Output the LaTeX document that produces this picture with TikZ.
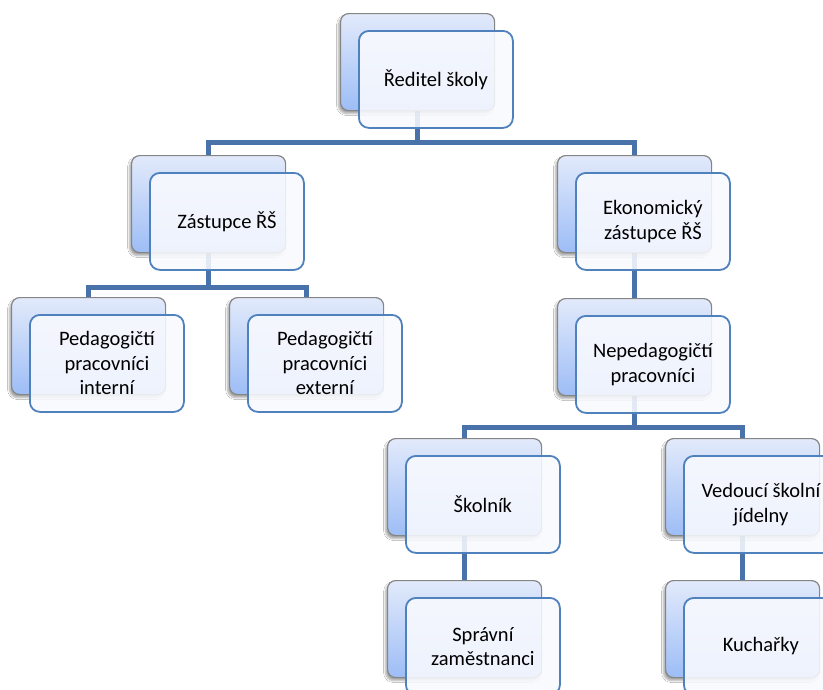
\documentclass[tikz,border=0pt]{standalone}
\usepackage{fontspec}
\setmainfont{Carlito}
\usetikzlibrary{shadows.blur}
\pgfdeclarelayer{background}
\pgfsetlayers{background,main}
\definecolor{linkblue}{HTML}{4A72AA}
\definecolor{frontborder}{HTML}{4F81BD}
\definecolor{frontfill}{HTML}{F9FAFE}
\definecolor{backtop}{HTML}{E2EAFB}
\definecolor{backbot}{HTML}{9DBDF6}
\definecolor{backborder}{HTML}{858585}
\tikzset{
  backbox/.style={draw=backborder, line width=1.2pt, rounded corners=8pt,
    top color=backtop, bottom color=backbot, minimum width=154pt, minimum height=97pt,
    inner sep=0pt, anchor=north west,
    blur shadow={shadow xshift=-2pt, shadow yshift=-3pt, shadow blur steps=6, shadow opacity=35}},
  frontbox/.style={draw=frontborder, line width=1.8pt, rounded corners=10pt,
    fill=frontfill, fill opacity=0.88, text opacity=1, minimum width=154pt, minimum height=97pt,
    inner sep=0pt, anchor=north west, align=center,
    font=\fontsize{20.5}{24.5}\selectfont},
  link/.style={draw=linkblue, line width=5pt}
}
\newcommand\orgbox[4]{%
  \node[backbox] (#1-b) at (#2,#3) {};
  \node[frontbox] (#1) at (#2+18,#3+17) {#4};}
\begin{document}
\begin{tikzpicture}[x=1pt,y=-1pt]
\useasboundingbox (0,0) rectangle (823,689);
\clip (0,0) rectangle (823,689);
\orgbox{dir}{340}{13}{Ředitel školy}
\orgbox{zast}{131}{155}{Zástupce ŘŠ}
\orgbox{ekon}{557}{155}{Ekonomický\\zástupce ŘŠ}
\orgbox{pint}{11}{297}{Pedagogičtí\\pracovníci\\interní}
\orgbox{pext}{229}{297}{Pedagogičtí\\pracovníci\\externí}
\orgbox{neped}{557}{298}{Nepedagogičtí\\pracovníci}
\orgbox{skol}{387}{438}{Školník}
\orgbox{ved}{665}{438}{Vedoucí školní\\jídelny}
\orgbox{spr}{387}{580}{Správní\\zaměstnanci}
\orgbox{kuch}{665}{580}{Kuchařky}
\begin{pgfonlayer}{background}
\fill[white] (0,0) rectangle (823,689);
\draw[link] (dir-b.south) -- ++(0,31) -| (zast-b.north);
\draw[link] (dir-b.south) -- ++(0,31) -| (ekon-b.north);
\draw[link] (zast-b.south) -- ++(0,34) -| (pint-b.north);
\draw[link] (zast-b.south) -- ++(0,34) -| (pext-b.north);
\draw[link] (ekon-b.south) -- (neped-b.north);
\draw[link] (neped-b.south) -- ++(0,31) -| (skol-b.north);
\draw[link] (neped-b.south) -- ++(0,31) -| (ved-b.north);
\draw[link] (skol-b.south) -- (spr-b.north);
\draw[link] (ved-b.south) -- (kuch-b.north);
\end{pgfonlayer}
\end{tikzpicture}
\end{document}
